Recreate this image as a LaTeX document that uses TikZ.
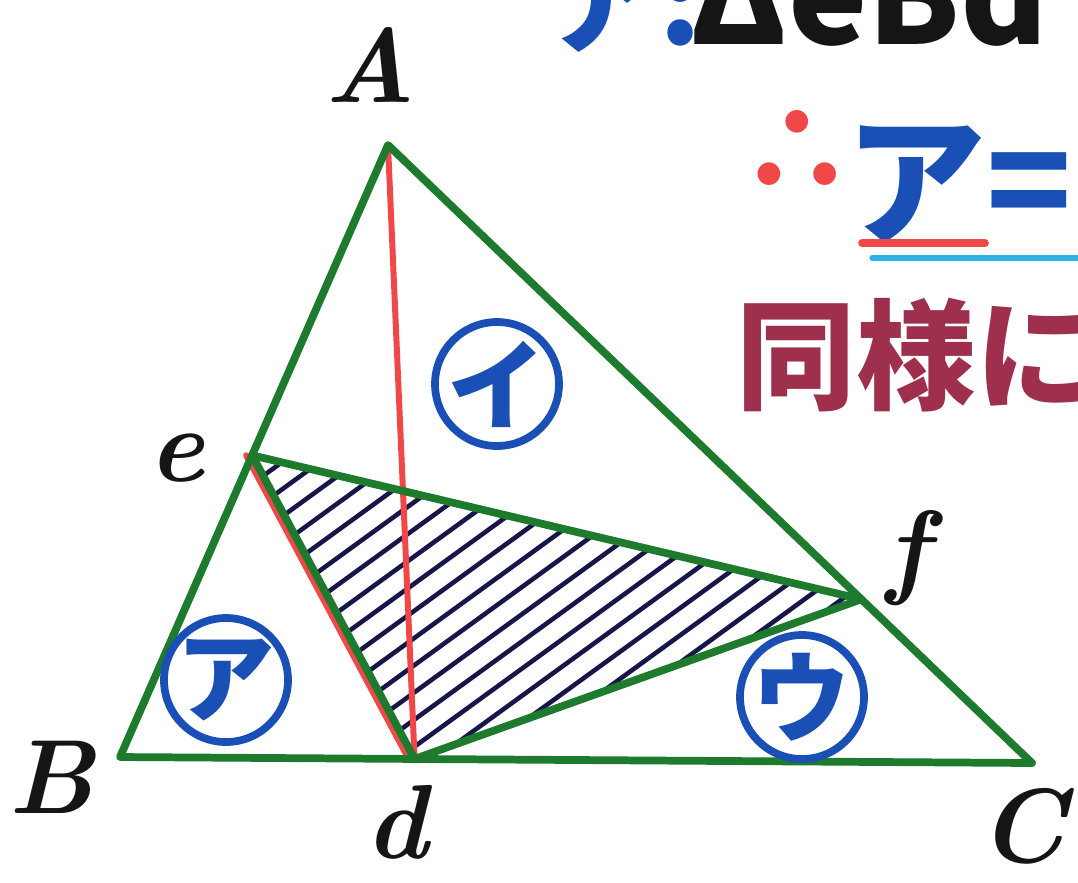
\documentclass[tikz,border=0pt]{standalone}
\usepackage{fontspec}
\newfontfamily\jpfont{Noto Sans CJK JP}
\usetikzlibrary{calc,shapes.geometric}
\definecolor{cSide}{HTML}{1E7B2E}
\definecolor{cRed}{HTML}{F04848}
\definecolor{cBlue}{HTML}{1A4FB5}
\definecolor{cHatch}{HTML}{16164A}
\definecolor{cNote}{HTML}{9E2F4D}
\definecolor{cCyan}{HTML}{2FB2E6}
\definecolor{cInk}{HTML}{151515}
\tikzset{
  side/.style={draw=cSide,line width=2.2pt,line cap=round,line join=round},
  redline/.style={draw=cRed,line width=1.7pt,line cap=round},
  hatchline/.style={draw=cHatch,line width=1.3pt},
  vlabel/.style={inner sep=0pt,text=cInk,font=\fontsize{30}{30}\selectfont\bfseries\itshape},
  region/.style={circle,draw=cBlue,line width=2.2pt,inner sep=0pt,minimum size=12.4mm},
  regtext/.style={inner sep=0pt,text=cBlue,font=\jpfont\fontsize{28}{28}\selectfont\bfseries},
  note/.style={inner sep=0pt,font=\jpfont\fontsize{34}{34}\selectfont\bfseries},
  underline/.style={line width=2.2pt,line cap=round}
}

\begin{document}
\begin{tikzpicture}
  \useasboundingbox (0,0) rectangle (10.78,8.82);
  \clip (0,0) rectangle (10.78,8.82);

  % Triangle and its inner points.
  \coordinate (A) at (3.88,7.37);
  \coordinate (B) at (1.20,1.25);
  \coordinate (C) at (10.32,1.19);
  \coordinate (d) at ($(B)!0.323!(C)$);
  \coordinate (e) at ($(A)!0.507!(B)$);
  \coordinate (f) at ($(A)!0.735!(C)$);

  % Hatched triangle def.
  \begin{scope}
    \clip (e) -- (d) -- (f) -- cycle;
    \begin{scope}[shift={(d)},rotate=36]
      \foreach \k in {-7,...,17}
        \draw[hatchline] (-6,\k*0.22+0.1) -- (8,\k*0.22+0.1);
    \end{scope}
  \end{scope}

  \draw[redline] (A) -- (d);
  \draw[redline] ([xshift=-0.6mm]e) -- ([xshift=-0.6mm]d);

  \draw[side] (A) -- (B) -- (C) -- cycle;
  \draw[side] (e) -- (f) -- (d) -- cycle;

  \node[vlabel] (labA) at (3.70,8.17) {A};
  \node[vlabel] (labB) at (0.52,1.05) {B};
  \node[vlabel] (labC) at (10.22,0.56) {C};
  \node[vlabel] (labd) at (3.97,0.60) {d};
  \node[vlabel] (labe) at (1.77,4.24) {e};
  \node[vlabel] (labf) at (9.08,3.24) {f};

  \node[region,label={[regtext]center:ア}] (regA) at (2.26,2.02) {};
  \node[region,label={[regtext]center:イ}] (regI) at (4.97,4.98) {};
  \node[region,label={[regtext]center:ウ}] (regU) at (8.02,1.85) {};

  % Right: notes, cut by the frame.
  \node[note,anchor=base west] (def) at (5.45,8.38)
    {{\color{cBlue}ア\kern-0.05em:\kern-0.1em}{\color{cInk}\fontsize{38}{38}\selectfont ΔeBd}};
  \node[note,text=cRed,font=\jpfont\fontsize{34}{34}\selectfont\bfseries]
    (therefore) at (7.97,7.30) {∴};
  \node[note,text=cBlue,anchor=west,font=\jpfont\fontsize{40}{40}\selectfont\bfseries]
    (eqA) at (8.45,6.98) {ア=};
  \coordinate (ulRa) at (8.62,6.39);
  \coordinate (ulRb) at (9.85,6.39);
  \coordinate (ulCa) at (8.72,6.24);
  \coordinate (ulCb) at (11.20,6.24);
  \draw[underline,cRed] (ulRa) -- (ulRb);
  \draw[underline,cCyan,line width=1.5pt] (ulCa) -- (ulCb);
  \node[note,text=cNote,anchor=west] (same) at (7.36,5.27) {同様に};
\end{tikzpicture}
\end{document}
